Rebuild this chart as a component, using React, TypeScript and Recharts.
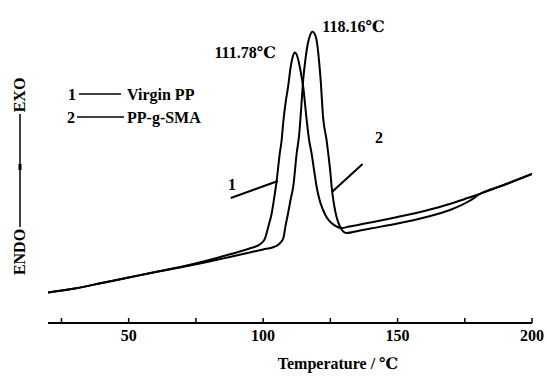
import React from "react";
import {
  LineChart,
  Line,
  XAxis,
  YAxis,
  ReferenceLine,
  ReferenceDot,
  Customized,
} from "recharts";

// Temperature (°C) and heat-flow (arbitrary units) for each sample
const virginT = [20, 30, 40, 50, 60, 70, 80, 88, 95, 99, 100, 100.7, 102, 103.2, 104, 105, 106.2, 106.9, 107.5, 108.4, 109.3, 110.2, 111, 111.8, 112.6, 113.5, 114.2, 114.9, 116.2, 117.1, 118, 119, 119.9, 121, 122.3, 123.8, 125.5, 127.3, 129.2, 132, 140, 150, 160, 170, 175, 180, 190, 200];
const virginHF = [3.05, 3.45, 4.0, 4.55, 5.1, 5.65, 6.3, 6.9, 7.45, 7.9, 8.15, 8.47, 9.7, 10.97, 12.3, 14.13, 16.97, 18.3, 20.1, 22.1, 23.63, 25.5, 26.6, 27.05, 26.75, 25.8, 24.8, 23.63, 20.3, 18.3, 17.0, 15.2, 13.63, 12.3, 11.3, 10.5, 9.97, 9.65, 9.5, 9.65, 10.05, 10.6, 11.2, 11.95, 12.4, 12.85, 13.85, 14.9];

const smaT = [20, 30, 40, 50, 60, 70, 80, 88, 95, 100, 104, 105.5, 106.5, 107.5, 108.4, 109.3, 110.2, 111.2, 112.5, 113.4, 114.2, 114.9, 115.8, 116.6, 117.5, 118.3, 119.1, 120, 120.7, 121.4, 122.3, 123.6, 124.2, 125, 125.5, 126.4, 127.3, 128.5, 129.8, 131, 136, 140, 150, 160, 170, 177, 180.6, 190, 200];
const smaHF = [3.05, 3.45, 4.0, 4.55, 5.1, 5.6, 6.15, 6.63, 7.05, 7.35, 7.6, 7.8, 8.05, 8.47, 9.8, 11.0, 12.3, 13.63, 17.0, 18.8, 21.6, 24.3, 26.5, 27.9, 28.8, 29.13, 28.95, 28.1, 26.5, 24.3, 20.6, 18.3, 17.0, 15.1, 13.6, 11.8, 10.63, 9.7, 9.15, 9.0, 9.25, 9.45, 9.95, 10.55, 11.35, 12.25, 12.9, 13.85, 14.9];

const xTicks = [25, 50, 75, 100, 125, 150, 175, 200];
const xLabelTicks = [50, 100, 150, 200];
const seriesNames = ["Virgin PP", "PP-g-SMA"];
const seriesNums = ["1", "2"];
const peakLabels = ["111.78℃", "118.16℃"];
const peakT = [111.8, 118.3];
const peakHF = [27.05, 29.13];
const xTitle = "Temperature / ℃";
const yTitleTop = "EXO";
const yTitleBottom = "ENDO";

// Leader lines pointing at the curves and their number labels
const leader1 = [{ x: 88.0, y: 12.5 }, { x: 105.5, y: 14.2 }];
const leader2 = [{ x: 125.6, y: 13.1 }, { x: 137.0, y: 15.9 }];
const curveLabelPos = [{ x: 88.4, y: 13.9 }, { x: 143.1, y: 18.6 }];

const virginData = virginT.map((t, i) => ({ t, v: virginHF[i] }));
const smaData = smaT.map((t, i) => ({ t, v: smaHF[i] }));

const FONT = "'Liberation Serif', 'DejaVu Serif', 'Times New Roman', serif";
const TXT: React.CSSProperties = { fontFamily: FONT, fontWeight: 700, fontSize: 16 };

const XTick = (props: any) => {
  const { x, y, payload } = props;
  const show = xLabelTicks.includes(payload.value);
  return (
    <g>
      <line x1={x} y1={y} x2={x} y2={y - 5} stroke="#000" strokeWidth={1.5} />
      {show && (
        <text x={x} y={y + 18} textAnchor="middle" style={TXT} fill="#000">
          {payload.value}
        </text>
      )}
    </g>
  );
};

const peakLabel = (text: string, dx: number, dy: number, anchor: string) => (props: any) => {
  const vb = props.viewBox || {};
  const cx = (vb.x || 0) + (vb.width || 0) / 2;
  const cy = (vb.y || 0) + (vb.height || 0) / 2;
  return (
    <text x={cx + dx} y={cy + dy} textAnchor={anchor} style={TXT} fill="#000">
      {text}
    </text>
  );
};

const curveNum = (text: string) => (props: any) => {
  const vb = props.viewBox || {};
  const cx = (vb.x || 0) + (vb.width || 0) / 2;
  const cy = (vb.y || 0) + (vb.height || 0) / 2;
  return (
    <text x={cx} y={cy + 6} textAnchor="middle" style={TXT} fill="#000">
      {text}
    </text>
  );
};

const Decorations = () => (
  <g fill="#000">
    {/* legend */}
    <text x={72} y={100} textAnchor="middle" style={TXT}>{seriesNums[0]}</text>
    <line x1={79} y1={94} x2={121} y2={94} stroke="#000" strokeWidth={1.5} />
    <text x={127} y={100} style={TXT}>{seriesNames[0]}</text>
    <text x={71} y={123} textAnchor="middle" style={TXT}>{seriesNums[1]}</text>
    <line x1={77} y1={117} x2={124} y2={117} stroke="#000" strokeWidth={1.5} />
    <text x={127} y={123} style={TXT}>{seriesNames[1]}</text>
    {/* y axis title */}
    <text x={0} y={0} transform="translate(25,95) rotate(-90)" textAnchor="middle" style={TXT}>{yTitleTop}</text>
    <line x1={20} y1={114} x2={20} y2={227} stroke="#000" strokeWidth={1.5} />
    <rect x={18.5} y={164} width={3} height={6} fill="#000" />
    <text x={0} y={0} transform="translate(25,252) rotate(-90)" textAnchor="middle" style={TXT}>{yTitleBottom}</text>
    {/* x axis title */}
    <text x={338} y={369} textAnchor="middle" style={TXT}>{xTitle}</text>
  </g>
);

export default function App() {
  return (
    <div style={{ position: "absolute", left: 0, top: 0, width: 548, height: 377, background: "#fff" }}>
      <LineChart width={548} height={377} margin={{ top: 12, right: 16, bottom: 0, left: 48 }}>
        <XAxis
          type="number"
          dataKey="t"
          domain={[20, 200]}
          ticks={xTicks}
          interval={0}
          tickLine={false}
          tickSize={0}
          tickMargin={0}
          tick={<XTick />}
          axisLine={{ stroke: "#000", strokeWidth: 2 }}
          height={54}
          allowDataOverflow
        />
        <YAxis
          type="number"
          domain={[0, 31.1]}
          width={0}
          tick={false}
          tickLine={false}
          axisLine={{ stroke: "#000", strokeWidth: 2 }}
          allowDataOverflow
        />
        <Line data={virginData} dataKey="v" type="monotone" stroke="#000" strokeWidth={2} dot={false} isAnimationActive={false} name={seriesNames[0]} />
        <Line data={smaData} dataKey="v" type="monotone" stroke="#000" strokeWidth={2} dot={false} isAnimationActive={false} name={seriesNames[1]} />
        <ReferenceLine segment={leader1} stroke="#000" strokeWidth={2} />
        <ReferenceLine segment={leader2} stroke="#000" strokeWidth={2} />
        <ReferenceDot x={curveLabelPos[0].x} y={curveLabelPos[0].y} r={0} fill="none" stroke="none" label={curveNum(seriesNums[0])} />
        <ReferenceDot x={curveLabelPos[1].x} y={curveLabelPos[1].y} r={0} fill="none" stroke="none" label={curveNum(seriesNums[1])} />
        <ReferenceDot x={peakT[0]} y={peakHF[0]} r={0} fill="none" stroke="none" label={peakLabel(peakLabels[0], -19, 5, "end")} />
        <ReferenceDot x={peakT[1]} y={peakHF[1]} r={0} fill="none" stroke="none" label={peakLabel(peakLabels[1], 10, 0, "start")} />
        <Customized component={Decorations} />
      </LineChart>
    </div>
  );
}
